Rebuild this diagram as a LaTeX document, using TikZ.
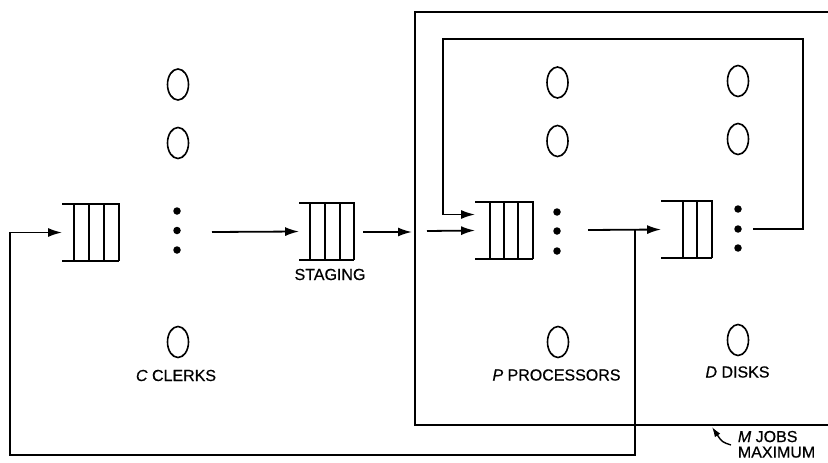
\documentclass[tikz,border=0pt]{standalone}
\usepackage{fontspec}
\setmainfont{Liberation Sans}
\newfontfamily\lblfont[FakeBold=0.6]{Liberation Sans}
\usetikzlibrary{arrows.meta,calc,shapes.geometric}
\begin{document}
\begin{tikzpicture}[x=1pt,y=-1pt,
  line width=1.8pt,
  arr/.style={-{Latex[length=14pt,width=9pt]}},
  srv/.style={ellipse,draw,line width=1.6pt,minimum width=21pt,minimum height=31pt,inner sep=0pt},
  dotn/.style={circle,fill,inner sep=0pt,minimum size=7.5pt},
  qbox/.style={rectangle,inner sep=0pt,minimum height=55pt},
  lbl/.style={font=\lblfont\fontsize{16}{15.5}\selectfont,inner sep=0pt}
]
\useasboundingbox (0,0) rectangle (828,463);

% queues (invisible frames)
\node[qbox,minimum width=55pt] (cq) at (90.5,232.5) {};
\node[qbox,minimum width=53pt] (sq) at (326.5,231.5) {};
\node[qbox,minimum width=56pt] (pq) at (504,230.5) {};
\node[qbox,minimum width=49pt] (dq) at (686.5,229.5) {};

% queue drawings
\foreach \q in {cq, sq, pq, dq}{
  \draw (\q.north west) -- (\q.north east) -- (\q.south east);
  \draw (\q.south west) -- (\q.south east);
}
\foreach \xx in {74,89,104} \draw (\xx,205) -- (\xx,260);
\foreach \xx in {310,325,340} \draw (\xx,204) -- (\xx,259);
\foreach \xx in {490,504,518} \draw (\xx,203) -- (\xx,258);
\foreach \xx in {683,697} \draw (\xx,202) -- (\xx,257);

% servers
\node[srv] (c1) at (178,84.5) {};
\node[srv] (c2) at (178,143) {};
\node[srv] (c3) at (178,342) {};
\node[srv] (p1) at (557.5,82.5) {};
\node[srv] (p2) at (557.5,141) {};
\node[srv] (p3) at (558,342) {};
\node[srv] (d1) at (738,81) {};
\node[srv] (d2) at (738,139) {};
\node[srv] (d3) at (738,340) {};

% dots
\foreach \yy [count=\i] in {211,230.5,250} \node[dotn] (cd\i) at (177,\yy) {};
\foreach \yy [count=\i] in {212,231,251} \node[dotn] (pd\i) at (557,\yy) {};
\foreach \yy [count=\i] in {209,229,248} \node[dotn] (dd\i) at (738,\yy) {};

% labels
\node[lbl] (lc) at (176,375.5) {\textit{C} CLERKS};
\node[lbl] (ls) at (330,274.5) {STAGING};
\node[lbl] (lp) at (556.5,375) {\textit{P} PROCESSORS};
\node[lbl] (ld) at (737.5,372) {\textit{D} DISKS};
\node[lbl,anchor=north west,align=left] (lm) at (737,430) {\textit{M} JOBS\\MAXIMUM};

% outer box (M jobs)
\draw (828,12) -- (415,12) -- (415,425) -- (828,425);

% coordinates
\coordinate (cout) at (212,232);
\coordinate (sout) at (363,232);
\coordinate (bxin) at (412,232);
\coordinate (bxout) at (427,231);
\coordinate (pout) at (588,230);
\coordinate (junc) at (635,230);
\coordinate (fbl) at (10,455);
\coordinate (dout) at (753,229);
\coordinate (tr) at (803,39);
\coordinate (tl) at (443,39);

% connectors
\draw[arr] (cout) -- (sq.west);
\draw[arr] (sout) -- (bxin);
\draw[arr] (bxout) -- (pq.west);
\draw[arr] (pout) -- (dq.west);
\draw[arr] (junc) |- (fbl) |- (cq.west);
\draw[arr] (dout) -| (tr) -- (tl) |- ($(pq.west)+(0,-16)$);

% M jobs pointer
\coordinate (mp) at (731,445);
\coordinate (mt) at (712,427);
\draw[-{Latex[length=10pt,width=6.5pt]},line width=1.4pt] (mp) .. controls (722,442) .. (mt);
\end{tikzpicture}
\end{document}
